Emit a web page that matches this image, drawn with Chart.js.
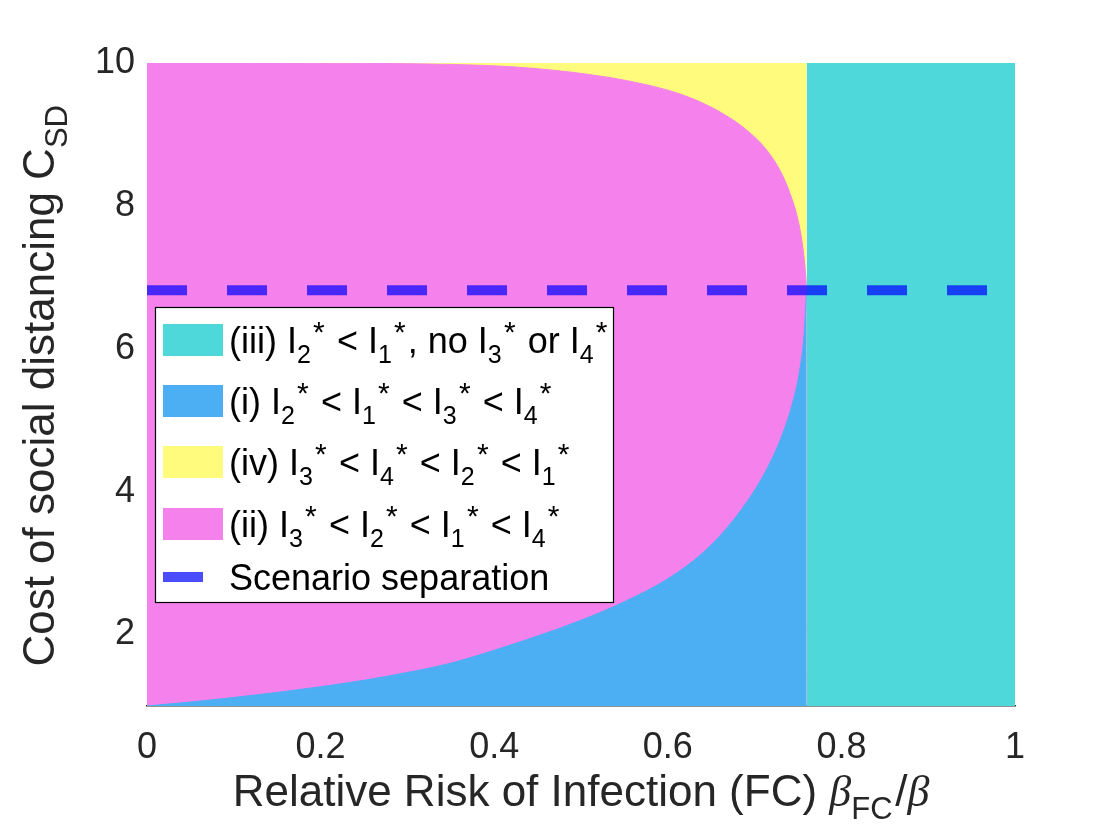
<!DOCTYPE html>
<html>
<head>
<meta charset="utf-8">
<script src="https://cdn.jsdelivr.net/npm/chart.js@4.4.1/dist/chart.umd.min.js"></script>
<style>
html, body { margin: 0; padding: 0; background: #fff; }
#wrap { width: 1120px; height: 840px; }
</style>
</head>
<body>
<div id="wrap"><canvas id="chart" width="1120" height="840"></canvas></div>
<script>
// Datos
const xTicks = [0, 0.2, 0.4, 0.6, 0.8, 1];
const yTicks = [2, 4, 6, 8, 10];

const threshold = 0.76;   // a partir de aqui solo escenario (iii)
const separation = 6.82;  // linea de separacion de escenarios

// frontera rosa / azul
const lowerX = [0, 0.05, 0.10, 0.15, 0.20, 0.25, 0.30, 0.35, 0.40, 0.45, 0.50, 0.55, 0.60, 0.64, 0.67, 0.70, 0.72, 0.735, 0.745, 0.752, 0.757, 0.76];
const lowerY = [1.00, 1.055, 1.12, 1.19, 1.27, 1.36, 1.47, 1.60, 1.78, 1.98, 2.20, 2.46, 2.78, 3.14, 3.52, 4.02, 4.46, 4.90, 5.30, 5.70, 6.20, 6.82];

// frontera rosa / amarillo
const upperX = [0, 0.1, 0.2, 0.3, 0.35, 0.4, 0.44, 0.49, 0.52, 0.55, 0.60, 0.62, 0.64, 0.665, 0.69, 0.714, 0.73, 0.74, 0.748, 0.754, 0.758, 0.76];
const upperY = [10.0, 10.0, 9.997, 9.99, 9.98, 9.96, 9.93, 9.87, 9.82, 9.76, 9.62, 9.54, 9.44, 9.28, 9.07, 8.78, 8.48, 8.20, 7.90, 7.55, 7.15, 6.82];

const labels = {
    iii: '(iii) I_2^* < I_1^*, no I_3^* or I_4^*',
    i: '(i) I_2^* < I_1^* < I_3^* < I_4^*',
    iv: '(iv) I_3^* < I_4^* < I_2^* < I_1^*',
    ii: '(ii) I_3^* < I_2^* < I_1^* < I_4^*',
    sep: 'Scenario separation'
};
const xTitle = 'Relative Risk of Infection (FC) β_{FC}/β';
const yTitle = 'Cost of social distancing C_{SD}';

const colors = {
    iii: '#4ed8da',
    i: '#4daff3',
    iv: '#fffb7c',
    ii: '#f582ec',
    sep: 'rgba(0, 0, 255, 0.7)'
};

const FONT = '"Liberation Sans", Helvetica, Arial, sans-serif';

function toPoints(xs, ys) {
    return xs.map((x, k) => ({ x: x, y: ys[k] }));
}

// texto con subindices / superindices estilo TeX
function parseRich(s) {
    const out = [];
    let buf = '';
    let i = 0;
    const push = (t, m) => { if (t) out.push({ t: t, m: m }); };
    while (i < s.length) {
        const c = s[i];
        if (c === '_' || c === '^') {
            push(buf, ''); buf = '';
            let t;
            if (s[i + 1] === '{') {
                const j = s.indexOf('}', i);
                t = s.slice(i + 2, j);
                i = j + 1;
            } else {
                t = s[i + 1];
                i += 2;
            }
            push(t, c === '_' ? 'sub' : 'sup');
        } else if (c === 'β') {
            push(buf, ''); buf = '';
            push('β', 'greek');
            i++;
        } else {
            buf += c;
            i++;
        }
    }
    push(buf, '');
    return out;
}

function partFont(m, size) {
    if (m === 'sub') return Math.round(size * 0.7) + 'px ' + FONT;
    if (m === 'sup') return Math.round(size * 0.82) + 'px ' + FONT;
    if (m === 'greek') return 'italic ' + size + 'px "Liberation Serif", serif';
    return size + 'px ' + FONT;
}

// pequeño espacio extra tras sub/superindices, como en el original
function partGap(m, size) {
    return (m === 'sub' || m === 'sup') ? size * 0.06 : 0;
}

function richWidth(ctx, s, size) {
    let w = 0;
    parseRich(s).forEach(p => {
        ctx.font = partFont(p.m, size);
        w += ctx.measureText(p.t).width + partGap(p.m, size);
    });
    return w;
}

function drawRich(ctx, s, x, y, size) {
    let cx = x;
    ctx.textBaseline = 'alphabetic';
    ctx.textAlign = 'left';
    parseRich(s).forEach(p => {
        ctx.font = partFont(p.m, size);
        let dy = 0;
        if (p.m === 'sub') dy = size * 0.29;
        if (p.m === 'sup') dy = -size * 0.3;
        ctx.fillText(p.t, cx, y + dy);
        cx += ctx.measureText(p.t).width + partGap(p.m, size);
    });
}

// leyenda y titulos de ejes dibujados a mano (por los subindices)
const extrasPlugin = {
    id: 'extras',
    afterDraw(chart) {
        const ctx = chart.ctx;
        const area = chart.chartArea;
        ctx.save();

        // titulo eje x
        ctx.fillStyle = '#262626';
        const tw = richWidth(ctx, xTitle, 44);
        drawRich(ctx, xTitle, (area.left + area.right) / 2 - tw / 2, 806, 44);

        // titulo eje y
        const th = richWidth(ctx, yTitle, 44);
        ctx.save();
        ctx.translate(54, (area.top + area.bottom) / 2);
        ctx.rotate(-Math.PI / 2);
        drawRich(ctx, yTitle, -th / 2, 0, 44);
        ctx.restore();

        // leyenda
        const bx = area.left + 8, by = 307, bw = 458, bh = 295;
        ctx.fillStyle = '#ffffff';
        ctx.fillRect(bx, by, bw, bh);
        ctx.strokeStyle = '#000000';
        ctx.lineWidth = 1.2;
        ctx.strokeRect(bx + 0.5, by + 0.5, bw, bh);

        const order = ['iii', 'i', 'iv', 'ii', 'sep'];
        const baselines = [353, 414, 475, 537, 590];
        order.forEach((key, k) => {
            const base = baselines[k];
            const cy = base - 13;
            if (key === 'sep') {
                ctx.fillStyle = colors.sep;
                ctx.fillRect(bx + 8, cy - 5, 40, 10);
            } else {
                ctx.fillStyle = colors[key];
                ctx.fillRect(bx + 8, cy - 16, 60, 32);
            }
            ctx.fillStyle = '#000000';
            drawRich(ctx, labels[key], bx + 74, base, 36);
        });
        ctx.restore();
    }
};

const areaStyle = key => ({
    borderColor: colors[key],
    backgroundColor: colors[key],
    borderWidth: 1,
    pointRadius: 0,
    fill: 'start'
});

const ctx = document.getElementById('chart').getContext('2d');
const chart = new Chart(ctx, {
    type: 'line',
    data: {
        datasets: [
            {
                label: labels.sep,
                data: [{ x: 0, y: separation }, { x: 1, y: separation }],
                borderColor: colors.sep,
                borderWidth: 10,
                borderDash: [40, 40],
                borderCapStyle: 'butt',
                pointRadius: 0,
                fill: false,
                order: 0
            },
            Object.assign({
                label: labels.iii,
                data: [{ x: threshold, y: 10 }, { x: 1, y: 10 }],
                order: 1
            }, areaStyle('iii')),
            Object.assign({
                label: labels.i,
                data: toPoints(lowerX, lowerY),
                cubicInterpolationMode: 'monotone',
                order: 2
            }, areaStyle('i')),
            Object.assign({
                label: labels.ii,
                data: toPoints(upperX, upperY),
                cubicInterpolationMode: 'monotone',
                order: 3
            }, areaStyle('ii')),
            Object.assign({
                label: labels.iv,
                data: [{ x: 0, y: 10 }, { x: threshold, y: 10 }],
                order: 4
            }, areaStyle('iv'))
        ]
    },
    options: {
        responsive: false,
        animation: false,
        devicePixelRatio: 1,
        layout: {
            padding: { top: 63, right: 105, left: 0, bottom: 0 }
        },
        plugins: {
            legend: { display: false },
            tooltip: { enabled: false }
        },
        scales: {
            x: {
                type: 'linear',
                min: 0,
                max: 1,
                z: 1,
                afterBuildTicks: s => { s.ticks = xTicks.map(v => ({ value: v })); },
                afterFit: s => { s.height = 134; },
                grid: { display: false, drawTicks: false },
                border: { display: true, color: '#262626', width: 1.5 },
                ticks: {
                    color: '#262626',
                    padding: 20,
                    maxRotation: 0,
                    font: { family: FONT, size: 36 },
                    callback: v => String(v)
                }
            },
            y: {
                type: 'linear',
                min: 1,
                max: 10,
                afterBuildTicks: s => { s.ticks = yTicks.map(v => ({ value: v })); },
                afterFit: s => { s.width = 147; },
                grid: { display: false, drawTicks: false },
                border: { display: false },
                ticks: {
                    color: '#262626',
                    padding: 12,
                    font: { family: FONT, size: 36 },
                    callback: v => String(v)
                }
            }
        }
    },
    plugins: [extrasPlugin]
});
</script>
</body>
</html>
